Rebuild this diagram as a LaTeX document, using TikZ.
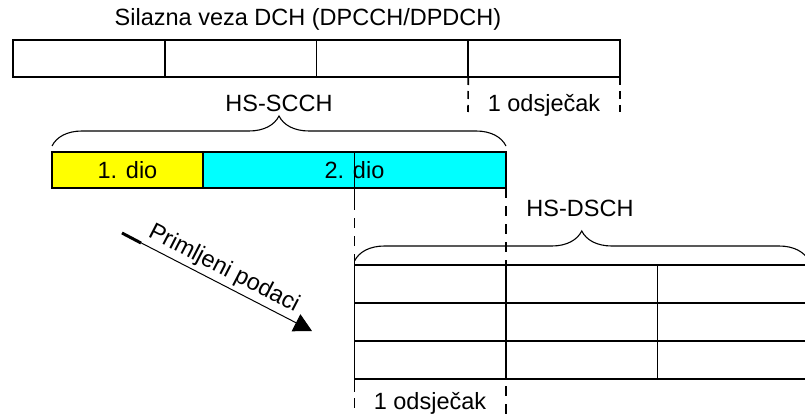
\documentclass[tikz,border=0pt]{standalone}
\usepackage{xcolor}
\usepackage{fontspec}
\setmainfont{Liberation Sans}
\usetikzlibrary{decorations.pathreplacing,arrows.meta}

\definecolor{partone}{RGB}{255,255,0}
\definecolor{parttwo}{RGB}{0,255,255}

\begin{document}
\begin{tikzpicture}[x=1pt,y=-1pt,
    every node/.style={font=\fontsize{23.5}{28}\selectfont},
    cell/.style={draw,line width=1.6pt,inner sep=0pt,outer sep=0pt,anchor=north west,
                 minimum width=151.75pt,minimum height=37pt},
    gap/.style={line width=1.6pt,dash pattern=on 10pt off 8pt},
    curly/.style={decorate,decoration={brace,amplitude=30pt},line width=1.1pt},
    flow/.style={line width=1pt,-{Triangle[length=18pt,width=19pt]}}]
\useasboundingbox (0,0) rectangle (805,414);

% downlink DCH
\node[anchor=base] (title) at (308,26) {Silazna veza DCH (DPCCH/DPDCH)};
\foreach \i in {0,1,2,3} {
    \node[cell] (d\i) at ({13+151.75*\i},40) {};
}
\coordinate (s1) at (468,112);
\coordinate (s2) at (620,112);
\draw[gap,dash pattern=on 8pt off 6pt] (d3.south west) -- (s1);
\draw[gap,dash pattern=on 8pt off 6pt] (d3.south east) -- (s2);
\node[anchor=base] (slot1) at (544,112) {1 odsječak};

% HS-SCCH
\node[anchor=base] (scch) at (279,112) {HS-SCCH};
\node[cell,fill=partone,minimum width=151pt,minimum height=36pt] (p1) at (52,152) {1. dio};
\node[cell,fill=parttwo,minimum width=303pt,minimum height=36pt] (p2) at (p1.north east) {2. dio};
\draw[curly] ([yshift=6pt]p1.north west) -- ([yshift=6pt]p2.north east);
\draw[line width=1.6pt] (p2.north) -- ([yshift=-12pt]p2.south);

% HS-DSCH
\foreach \r in {0,1,2} {
    \foreach \c in {0,1,2} {
        \node[cell,minimum width=151.5pt,minimum height=38pt] (t\r\c) at ({354.5+151.5*\c},{265+38*\r}) {};
    }
}
\draw[curly] ([yshift=4pt]t00.north west) -- ([yshift=4pt]t02.north east);
\node[anchor=base] (dsch) at (580,216) {HS-DSCH};
\draw[line width=1.6pt] ([yshift=7pt]t00.north west) -- ([yshift=-13pt]t20.south west);

\coordinate (b1) at (354.5,414);
\coordinate (b2) at (506,414);
\draw[gap] ([yshift=-12pt]p2.south) -- (b1);
\draw[gap] (p2.south east) -- (b2);
\node[anchor=base] (slot2) at (430,409) {1 odsječak};

% received data
\coordinate (a0) at (122,233);
\coordinate (a1) at (312,331);
\coordinate (a2) at (141,243);
\draw[line width=3pt] (a0) -- (a2);
\draw[flow] (a0) -- (a1) node[midway,sloped,above] (recv) {Primljeni podaci};
\end{tikzpicture}
\end{document}
